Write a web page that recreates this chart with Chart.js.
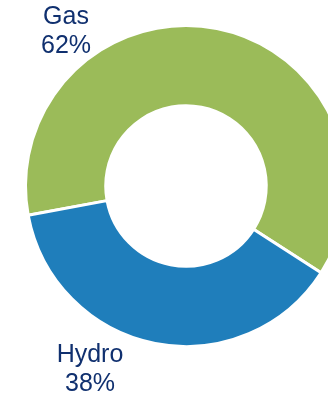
<!DOCTYPE html>
<html>
<head>
<meta charset="utf-8">
<script src="https://cdn.jsdelivr.net/npm/chart.js@4"></script>
<style>
  html, body { margin: 0; padding: 0; background: #fff; overflow: hidden; }
  #wrap { width: 372px; height: 400px; }
</style>
</head>
<body>
<div id="wrap"><canvas id="pie-chart" width="372" height="400"></canvas></div>
<script>
const labels = ['Gas', 'Hydro'];
const shares = [62, 38];
const colors = ['#9BBB59', '#1F7EBB'];
// where each label block sits, relative to the ring centre
const labelOffsets = [[-120, -154], [-96, 184]];

const sliceLabels = {
  id: 'sliceLabels',
  afterDatasetsDraw(chart) {
    const ctx = chart.ctx;
    const arc = chart.getDatasetMeta(0).data[0];
    const total = shares.reduce((a, b) => a + b, 0);
    ctx.save();
    ctx.fillStyle = '#10306F';
    ctx.font = '25px "Liberation Sans", Arial, sans-serif';
    ctx.textAlign = 'center';
    ctx.textBaseline = 'middle';
    labels.forEach((name, i) => {
      const x = arc.x + labelOffsets[i][0];
      const y = arc.y + labelOffsets[i][1];
      const pct = Math.round(shares[i] / total * 100) + '%';
      ctx.fillText(name, x, y - 14.5);
      ctx.fillText(pct, x, y + 14.5);
    });
    ctx.restore();
  }
};

new Chart(document.getElementById('pie-chart'), {
  type: 'doughnut',
  data: {
    labels: labels,
    datasets: [{
      data: shares,
      backgroundColor: colors,
      borderColor: '#ffffff',
      borderWidth: 3
    }]
  },
  options: {
    responsive: false,
    animation: false,
    rotation: 259.5,
    cutout: '50%',
    layout: { padding: { left: 24, right: 24, top: 24, bottom: 52 } },
    plugins: {
      legend: { display: false },
      tooltip: { enabled: false }
    }
  },
  plugins: [sliceLabels]
});
</script>
</body>
</html>
